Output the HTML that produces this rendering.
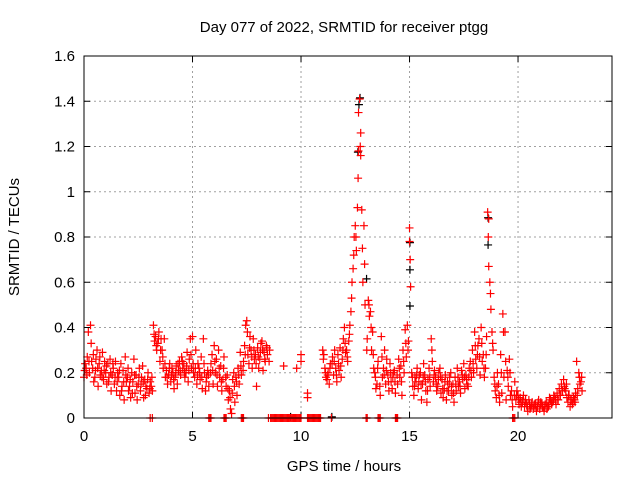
<!DOCTYPE html>
<html><head><meta charset="utf-8"><style>
body{margin:0;background:#fff}
svg{display:block;font-family:"Liberation Sans",sans-serif}
</style></head><body>
<svg id="chart" width="640" height="480" viewBox="0 0 640 480" xmlns="http://www.w3.org/2000/svg">
<rect width="640" height="480" fill="#fff"/>
<g id="grid"></g>
<g id="axes"></g>
<g id="marks"></g>
<rect x="84" y="56" width="528" height="362" fill="none" stroke="#000" stroke-width="1"/>
<text x="344" y="32" font-size="15" text-anchor="middle">Day 077 of 2022, SRMTID for receiver ptgg</text>
<text x="344" y="471" font-size="15" text-anchor="middle">GPS time / hours</text>
<text transform="translate(19,237) rotate(-90)" font-size="15" text-anchor="middle">SRMTID / TECUs</text>
</svg>
<script>
const xTicks=[0,5,10,15,20];
const yTicks=[0,0.2,0.4,0.6,0.8,1,1.2,1.4,1.6];
const yTickLabels=["0","0.2","0.4","0.6","0.8","1","1.2","1.4","1.6"];
const hours=[0.0,0.1,0.2,0.3,0.4,0.5,0.6,0.7,0.8,0.9,1.0,1.1,1.2,1.3,1.4,1.5,1.6,1.7,1.8,1.9,2.0,2.1,2.2,2.3,2.4,2.5,2.6,2.7,2.8,2.9,3.0,3.1,3.2,3.3,3.4,3.5,3.6,3.7,3.8,3.9,4.0,4.1,4.2,4.3,4.4,4.5,4.6,4.7,4.8,4.9,5.0,5.1,5.2,5.3,5.4,5.5,5.6,5.7,5.8,5.9,6.0,6.1,6.2,6.3,6.4,6.5,6.6,6.7,6.8,6.9,7.0,7.1,7.2,7.3,7.4,7.5,7.6,7.7,7.8,7.9,8.0,8.1,8.2,8.3,8.4,8.5,
11.0,11.1,11.2,11.3,11.4,11.5,11.6,11.7,11.8,11.9,12.0,12.1,12.2,12.3,12.4,12.5,12.6,12.7,12.8,12.9,13.0,13.1,13.2,13.3,13.4,13.5,13.6,13.7,13.8,13.9,14.0,14.1,14.2,14.3,14.4,14.5,14.6,14.7,14.8,14.9,15.0,15.1,15.2,15.3,15.4,15.5,15.6,15.7,15.8,15.9,16.0,16.1,16.2,16.3,16.4,16.5,16.6,16.7,16.8,16.9,17.0,17.1,17.2,17.3,17.4,17.5,17.6,17.7,17.8,17.9,18.0,18.1,18.2,18.3,18.4,18.5,18.6,18.7,18.8,18.9,19.0,19.1,19.2,19.3,19.4,19.5,19.6,19.7,19.8,19.9,20.0,20.1,20.2,20.3,20.4,20.5,20.6,20.7,20.8,20.9,21.0,21.1,21.2,21.3,21.4,21.5,21.6,21.7,21.8,21.9,22.0,22.1,22.2,22.3,22.4,22.5,22.6,22.7,22.8,22.9];
const srmtidA=[.18,.22,.38,.41,.22,.18,.30,.24,.21,.17,.20,.24,.26,.19,.15,.12,.18,.24,.21,.27,.18,.14,.20,.26,.19,.15,.12,.23,.17,.13,.11,.14,.41,.36,.33,.25,.30,.35,.21,.19,.16,.20,.18,.15,.25,.27,.24,.20,.16,.35,.36,.18,.15,.22,.27,.35,.12,.21,0,.28,.32,.26,.30,.23,.17,0,.19,.12,.02,.20,.18,.22,.29,0,.32,.43,.24,.30,.35,.28,.31,.26,.34,.29,.32,0,
.30,.22,.17,.15,0,.19,.22,.28,.31,.26,.40,.30,.34,.47,.66,.85,.93,1.41,.92,.85,0,.52,.47,.38,.20,.15,0,.36,.22,.15,.19,.24,.13,.21,0,.26,.23,.30,.39,.41,.84,.20,.10,.16,.13,.20,.15,.19,.07,.22,.35,.16,.18,.14,.22,.17,.13,.08,.12,.20,.15,.18,.22,.16,.21,.24,.19,.14,.25,.30,.38,.22,.35,.40,.28,.22,.91,.60,.38,.18,.09,.15,.28,.46,.38,.21,.26,.12,0,.08,.10,.09,.07,.05,.06,.08,.05,.04,.06,.05,.04,.06,.03,.07,.05,.08,.07,.09,.11,.13,.15,.17,.12,.07,.05,.06,.08,.25,.20,.16];
const srmtidB=[.24,.27,.20,.25,.16,.26,.14,.19,.29,.25,.15,.18,.12,.22,.25,.20,.10,.14,.08,.16,.12,.09,.16,.11,.08,.22,.18,.09,.14,.20,.16,.12,.34,.30,.38,.35,.22,.18,.15,.24,.22,.13,.23,.21,.19,.22,.18,.29,.26,.22,.20,.30,.24,.17,.13,.20,.18,.14,.24,.15,.20,.14,.18,.12,.27,.14,.08,.04,.17,.07,.10,.15,.19,.25,.41,.28,.36,.22,.26,.14,.22,.33,.21,.25,.28,.30,
.28,.18,.20,.24,.27,.30,.16,.21,.18,.35,.29,.25,.41,.60,.80,.74,1.18,1.26,.60,.50,.35,.45,.30,.22,.13,.25,.10,.18,.30,.26,.12,.16,.20,.11,.15,.18,.10,.20,.27,.34,.58,.14,.18,.22,.19,.08,.24,.12,.17,.14,.25,.21,.12,.20,.11,.09,.19,.16,.18,.10,.07,.12,.14,.11,.17,.13,.15,.22,.18,.20,.26,.32,.19,.25,.18,.36,.67,.48,.30,.12,.20,.07,.11,.18,.08,.14,.10,.05,.16,.12,.06,.05,.10,.08,.03,.04,.07,.06,.03,.08,.07,.05,.06,.05,.09,.06,.10,.06,.08,.10,.12,.13,.09,.10,.08,.09,.11,.13,.15,.12];
const srmtidC=[.21,.19,.25,.33,.28,.21,.22,.27,.18,.21,.23,.16,.20,.24,.18,.16,.21,.12,.16,.19,.22,.17,.11,.19,.14,.18,.15,.16,.10,.17,.13,.18,.37,.32,.35,.30,.27,.24,.18,.22,.19,.17,.20,.24,.21,.25,.20,.23,.21,.28,.24,.22,.19,.20,.18,.24,.16,.19,.20,.21,.25,.19,.22,.16,.22,.18,.13,.09,.11,.14,.16,.19,.23,.21,.28,.38,.31,.27,.30,.24,.27,.29,.30,.26,.31,.25,
.26,.20,.19,.22,.24,.25,.19,.24,.23,.30,.33,.27,.37,.53,.72,.80,1.06,1.20,.75,.68,.30,.50,.40,.28,.18,.22,.14,.27,.19,.21,.16,.20,.18,.16,.19,.22,.16,.25,.33,.30,.70,.18,.14,.19,.16,.15,.18,.16,.12,.18,.30,.19,.15,.17,.18,.13,.16,.12,.15,.14,.11,.15,.18,.14,.19,.18,.17,.18,.21,.24,.32,.28,.27,.33,.22,.28,.80,.55,.33,.15,.14,.10,.20,.38,.25,.18,.20,.08,.10,.10,.08,.07,.08,.07,.05,.06,.06,.05,.05,.07,.06,.05,.05,.04,.06,.07,.08,.08,.08,.10,.12,.14,.15,.10,.08,.07,.07,.10,.18,.18,.14];
const extraHours=[8.6,8.7,8.8,8.9,9.0,9.1,9.2,9.3,9.4,9.5,9.6,9.7,9.8,9.9,10.0,10.3,10.4,10.5,10.6,10.7,10.8,10.9,8.65,8.75,8.85,8.95,9.05,9.15,9.25,9.35,9.45,9.55,9.65,9.75,9.85,9.95,10.35,10.45,10.55,10.65,10.75,10.85,9.2,9.8,10.0,10.0,10.3,10.3,12.65,12.75,15.0,18.65,3.05,3.15,5.75,5.85,6.45,6.55,7.25,7.35,13.0,13.05,13.55,13.65,14.35,14.45,19.75,19.85];
const extraValues=[0,0,0,0,0,0,0,0,0,0,0,0,0,0,0,0,0,0,0,0,0,0,0,0,0,0,0,0,0,0,0,0,0,0,0,0,0,0,0,0,0,0,.23,.22,.25,.28,.11,.09,1.35,1.16,.78,.88,0,0,0,0,0,0,0,0,0,0,0,0,0,0,0,0];
const blackHours=[12.7,12.65,12.6,13.0,15.0,15.0,15.0,18.6,18.6,11.4,9.5];
const blackValues=[1.41,1.38,1.17,.61,.77,.65,.49,.88,.76,0,0];

const X0=84,X1=612,Y0=418,Y1=56,XMAX=24.33,YMAX=1.6;
const xs=t=>X0+t*(X1-X0)/XMAX;
const ys=v=>Y0-v*(Y0-Y1)/YMAX;
const NS="http://www.w3.org/2000/svg";
const grid=document.getElementById('grid'),axes=document.getElementById('axes'),marks=document.getElementById('marks');
function mk(tag,attrs,parent){const e=document.createElementNS(NS,tag);for(const k in attrs)e.setAttribute(k,attrs[k]);parent.appendChild(e);return e;}
xTicks.forEach(t=>{
  const x=xs(t);
  if(t>0){const g=mk('line',{x1:x,x2:x,y1:Y0,y2:Y1,stroke:'#a0a0a0','stroke-dasharray':'2,3'},grid);
  
  }
  const tk=mk('path',{d:`M${x},${Y0}v-6M${x},${Y1}v6`,stroke:'#000'},axes);
  
  
  const l=mk('text',{x:x,y:Y0+23,'font-size':15,'text-anchor':'middle'},axes);l.textContent=t;
  
  
});
yTicks.forEach((v,i)=>{
  const y=ys(v);
  if(v>0&&v<YMAX){const g=mk('line',{x1:X0,x2:X1,y1:y,y2:y,stroke:'#a0a0a0','stroke-dasharray':'2,3'},grid);
  
  }
  const tk=mk('path',{d:`M${X0},${y}h6M${X1},${y}h-6`,stroke:'#000'},axes);
  
  
  const l=mk('text',{x:X0-9,y:y+5,'font-size':15,'text-anchor':'end'},axes);l.textContent=yTickLabels[i];
  
  
});
function plus(t,v,color,name){
  const x=xs(t),y=ys(v);
  const p=mk('path',{d:`M${x-4},${y}h8M${x},${y-4}v8`,stroke:color,'stroke-width':1.2,fill:'none'},marks);
  
  
}
blackHours.forEach((t,i)=>plus(t+0.02,blackValues[i]+0.005,'#000','black-point'));
hours.forEach((t,i)=>{plus(t,srmtidA[i],'#f00','red-point');plus(t+0.05,srmtidB[i],'#f00','red-point');plus(t+0.03,srmtidC[i],'#f00','red-point');});
extraHours.forEach((t,i)=>plus(t,extraValues[i],'#f00','red-point'));
</script>
</body></html>
